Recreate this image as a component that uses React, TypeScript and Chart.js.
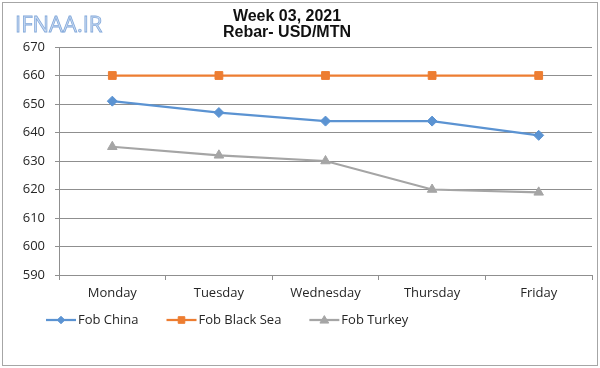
import React, { useEffect, useRef } from "react";
import { Chart, registerables } from "chart.js";

Chart.register(...registerables);

const categories = ["Monday", "Tuesday", "Wednesday", "Thursday", "Friday"];
const fobChina = [651, 647, 644, 644, 639];
const fobBlackSea = [660, 660, 660, 660, 660];
const fobTurkey = [635, 632, 630, 620, 619];
const titleLines = ["Week 03, 2021", "Rebar- USD/MTN"];
const watermark = "IFNAA.IR";
const yMin = 590;
const yMax = 670;
const yStep = 10;

const FONT = "'Open Sans', 'DejaVu Sans', sans-serif";
const TEXT = "#262626";
const GRID = "#8f8f8f";

const decorPlugin = {
  id: "decor",
  afterDraw(chart: any) {
    const ctx = chart.ctx as CanvasRenderingContext2D;
    ctx.save();
    // frame
    ctx.strokeStyle = "#a6a6a6";
    ctx.lineWidth = 1;
    ctx.strokeRect(2.5, 2.5, 595, 363);

    // watermark
    ctx.font = `22px ${FONT}`;
    ctx.textAlign = "left";
    ctx.textBaseline = "alphabetic";
    ctx.fillStyle = "#cddcf2";
    ctx.fillText(watermark, 15, 32);
    ctx.strokeStyle = "#84aadb";
    ctx.lineWidth = 0.8;
    ctx.strokeText(watermark, 15, 32);

    // title
    ctx.fillStyle = "#111";
    ctx.font = "bold 16px 'Liberation Sans', Arial, sans-serif";
    ctx.textAlign = "center";
    ctx.textBaseline = "middle";
    ctx.fillText(titleLines[0], 287, 16.5);
    ctx.fillText(titleLines[1], 287, 32.5);

    // legend
    ctx.font = `13px ${FONT}`;
    ctx.textAlign = "left";
    ctx.textBaseline = "middle";
    let x = 46;
    const y = 320;
    chart.data.datasets.forEach((ds: any) => {
      ctx.strokeStyle = ds.borderColor;
      ctx.lineWidth = 2.25;
      ctx.beginPath();
      ctx.moveTo(x, y);
      ctx.lineTo(x + 30, y);
      ctx.stroke();
      ctx.fillStyle = ds.borderColor;
      ctx.strokeStyle = ds.borderColor;
      ctx.lineWidth = 1;
      drawMarker(ctx, ds.pointStyle, ds.pointRadius, x + 15, y);
      ctx.fillStyle = TEXT;
      ctx.fillText(ds.label, x + 32, y);
      x += 32 + ctx.measureText(ds.label).width + 28;
    });
    ctx.restore();
  },
};

function drawMarker(ctx: CanvasRenderingContext2D, style: string, r: number, x: number, y: number) {
  ctx.beginPath();
  if (style === "rectRot") {
    const s = r * 0.75;
    ctx.moveTo(x, y - s);
    ctx.lineTo(x + s, y);
    ctx.lineTo(x, y + s);
    ctx.lineTo(x - s, y);
  } else if (style === "rect") {
    const s = r * Math.SQRT1_2 * 0.85;
    ctx.rect(x - s, y - s, 2 * s, 2 * s);
  } else {
    const s = r * 0.8;
    ctx.moveTo(x, y - s);
    ctx.lineTo(x + s, y + s * 0.7);
    ctx.lineTo(x - s, y + s * 0.7);
  }
  ctx.closePath();
  ctx.fill();
  ctx.stroke();
}

export default function App() {
  const ref = useRef<HTMLCanvasElement>(null);
  useEffect(() => {
    if (!ref.current) return;
    const mk = (label: string, data: number[], color: string, style: string, radius: number) => ({
      label,
      data,
      borderColor: color,
      backgroundColor: color,
      pointBackgroundColor: color,
      pointBorderColor: color,
      pointBorderWidth: 1,
      pointStyle: style,
      pointRadius: radius,
      borderWidth: 2.25,
      tension: 0,
    });
    const chart = new Chart(ref.current, {
      type: "line",
      data: {
        labels: categories,
        datasets: [
          mk("Fob China", fobChina, "#5b93d2", "rectRot", 5),
          mk("Fob Black Sea", fobBlackSea, "#ed7d31", "rect", 5.5),
          mk("Fob Turkey", fobTurkey, "#a5a5a5", "triangle", 5.5),
        ] as any,
      },
      options: {
        responsive: false,
        animation: false,
        layout: { padding: { left: 2, right: 8, top: 47, bottom: 63 } },
        plugins: {
          legend: { display: false },
          title: { display: false },
          tooltip: { enabled: false },
        },
        scales: {
          x: {
            offset: true,
            grid: {
              offset: true,
              drawOnChartArea: false,
              drawTicks: true,
              tickLength: 5,
              color: GRID,
            },
            border: { display: true, color: GRID, width: 1 },
            ticks: { color: TEXT, font: { family: FONT, size: 13 }, padding: 5.5, maxRotation: 0 },
            afterFit: (s: any) => {
              s.height = 30;
            },
          },
          y: {
            min: yMin,
            max: yMax,
            grid: { color: GRID, tickLength: 4, drawTicks: true },
            border: { display: true, color: GRID, width: 1 },
            ticks: { stepSize: yStep, color: TEXT, font: { family: FONT, size: 13 }, padding: 10 },
            afterFit: (s: any) => {
              s.width = 57;
            },
          },
        },
      },
      plugins: [decorPlugin],
    });
    return () => chart.destroy();
  }, []);
  return (
    <div style={{ position: "fixed", left: 0, top: 0, width: 600, height: 368, background: "#fff" }}>
      <canvas ref={ref} width={600} height={368} />
    </div>
  );
}
